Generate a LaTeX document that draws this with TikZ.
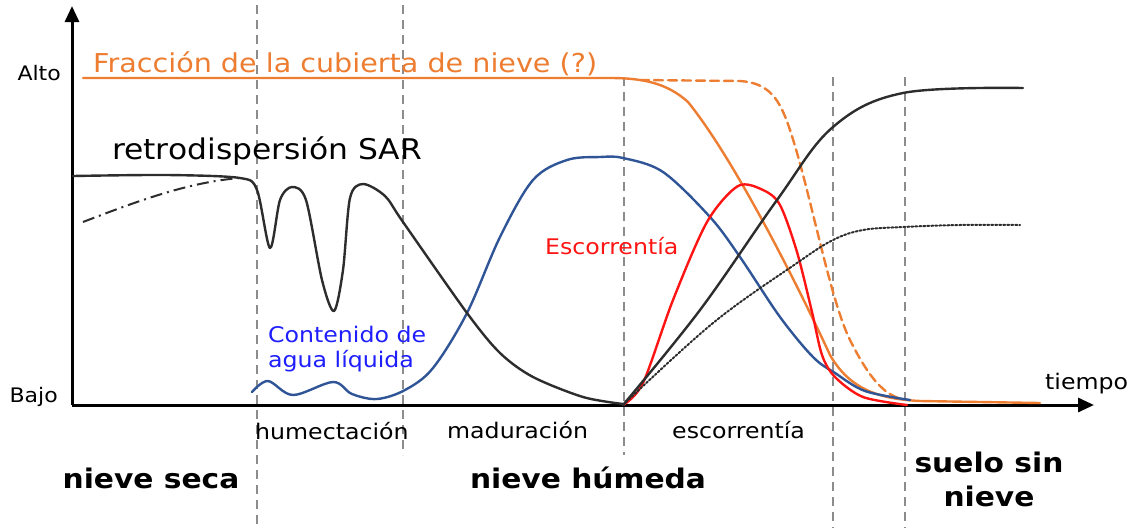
\documentclass[tikz,border=0pt]{standalone}
\usepackage{fontspec}
\setmainfont{DejaVu Sans}[FakeStretch=1.1]
\usetikzlibrary{arrows.meta}
\definecolor{orng}{RGB}{237,125,49}
\definecolor{blu}{RGB}{47,85,151}
\definecolor{txtblue}{RGB}{30,30,255}
\definecolor{rd}{RGB}{255,20,20}
\definecolor{dk}{RGB}{45,45,45}
\definecolor{gr}{RGB}{140,140,140}
\begin{document}
\begin{tikzpicture}[x=1pt,y=-1pt,
  phase/.style={gr, line width=1.8pt, dash pattern=on 9pt off 6pt},
  curve/.style={line width=2.4pt, line join=round, line cap=round},
  axis/.style={black, line width=3pt, -{Triangle[length=16pt,width=14pt]}},
  small/.style={font=\fontsize{20}{22}\selectfont, inner sep=0pt},
  mid/.style={font=\fontsize{21.5}{25}\selectfont, inner sep=0pt},
  fraclbl/.style={font=\fontsize{26}{30}\selectfont, inner sep=0pt},
  big/.style={font=\fontsize{28.5}{32}\selectfont, inner sep=0pt},
  stage/.style={font=\bfseries\fontsize{27}{34}\selectfont, inner sep=0pt, align=center}]
\useasboundingbox (0,0) rectangle (1141,528);
% phase separators
\draw[phase] (257,5) -- (257,528);
\draw[phase] (403,5) -- (403,455);
\draw[phase] (624,77) -- (624,455);
\draw[phase] (833,77) -- (833,528);
\draw[phase] (905,77) -- (905,528);
% axes
\coordinate (o) at (72,405);
\coordinate (ytip) at (72,6);
\coordinate (xtip) at (1094,405);
\draw[axis] (o) -- (ytip);
\draw[axis] (o) -- (xtip);
% snow cover fraction
\draw[curve, orng] (83,78) -- (610,78) .. controls (645,78) and (668,84) .. (688,102)
  .. controls (735,160) and (800,290) .. (830,355)
  .. controls (850,390) and (880,399) .. (920,401) -- (1040,403);
\draw[curve, orng, dash pattern=on 9pt off 5pt] (640,80) -- (740,81)
  .. controls (770,83) and (780,100) .. (790,130)
  .. controls (810,190) and (830,300) .. (850,340)
  .. controls (870,380) and (885,395) .. (902,399);
% liquid water content
\draw[curve, blu] plot[smooth, tension=0.55] coordinates {(252,392) (268,381) (293,395) (333,382) (352,394) (377,399) (405,390) (433,368) (467,313) (500,237) (533,180) (567,160) (600,157) (623,158) (663,172) (710,217) (740,257) (780,317) (813,357) (835,373) (865,391) (910,400)};
% runoff
\draw[curve, rd] plot[smooth, tension=0.5] coordinates {(623,405) (643,383) (673,300) (707,222) (738,186) (763,190) (780,205) (797,252) (812,312) (822,355) (835,377) (863,397) (907,405)};
% bare ground backscatter
\draw[curve, dk] plot[smooth, tension=0.6] coordinates {(623,405) (700,310) (777,200) (833,127) (903,93) (1023,88)};
\draw[line width=2pt, dk, dotted, line cap=round] plot[smooth, tension=0.6] coordinates {(623,405) (713,323) (797,263) (833,240) (863,230) (903,227) (960,225) (1020,225)};
% SAR backscatter
\draw[curve, dk] plot[smooth, tension=0.5] coordinates {(73,176) (167,175) (240,178) (257,190) (270,248) (280,200) (292,187) (306,200) (322,280) (334,311) (343,270) (350,198) (363,184) (385,196) (403,222) (467,313) (500,353) (533,377) (583,397) (623,404)};
\draw[line width=2pt, dk, dash pattern=on 12pt off 5pt on 2pt off 5pt] (83,222) .. controls (140,200) and (190,182) .. (240,178);
% labels
\node[small, anchor=base east] (alto) at (61,80) {Alto};
\node[small, anchor=base east] (bajo) at (58,402) {Bajo};
\node[fraclbl, orng, anchor=base west] (frac) at (93,72) {Fracción de la cubierta de nieve (?)};
\node[big, anchor=base west] (sar) at (112,159) {retrodispersión SAR};
\node[mid, txtblue, anchor=north west, align=left] (agua) at (268,326) {Contenido de\\agua líquida};
\node[mid, rd, anchor=base west] (esc) at (545,254) {Escorrentía};
\node[mid, anchor=base west] (tiempo) at (1045,389) {tiempo};
\node[mid, anchor=base west] (hum) at (255,439) {humectación};
\node[mid, anchor=base west] (mad) at (447,438) {maduración};
\node[mid, anchor=base west] (escph) at (672,438) {escorrentía};
\node[stage] (seca) at (151,478) {nieve seca};
\node[stage] (humeda) at (588,478) {nieve húmeda};
\node[stage] (suelo) at (989,479) {suelo sin\\nieve};
\end{tikzpicture}
\end{document}
